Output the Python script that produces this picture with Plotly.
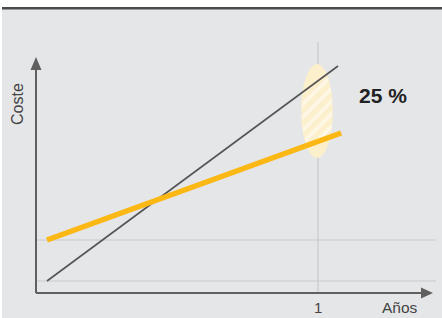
import numpy as np
import plotly.graph_objects as go

W, H = 442, 318

# ---- data ----
gray_x = [0.039, 1.071]
gray_y = [0.12, 2.27]
yellow_x = [0.039, 1.082]
yellow_y = [0.53, 1.60]
grid_y = [0.12, 0.53]
tick_x = [1]
tick_labels = ["1"]
highlight_label = "25 %"
x_title = "Años"
y_title = "Coste"

# ellipse (highlight band) in data units
ell_x = [0.94, 1.053]
ell_y = [1.35, 2.29]

XR = [-36 / 282, (W - 36) / 282]
YR = [(293 - H) / 100, 293 / 100]


def px(x):
    return x / W


def py(y):
    return 1 - y / H


fig = go.Figure()

# ellipse fill
cx, cy = (ell_x[0] + ell_x[1]) / 2, (ell_y[0] + ell_y[1]) / 2
rx, ry = (ell_x[1] - ell_x[0]) / 2, (ell_y[1] - ell_y[0]) / 2
t = np.linspace(0, 2 * np.pi, 120)
fig.add_trace(go.Scatter(x=cx + rx * np.cos(t), y=cy + ry * np.sin(t), mode="lines",
                         line=dict(width=0, color="#fcefcc"), fill="toself",
                         fillcolor="#fcefcc", hoverinfo="skip", showlegend=False))

# hatched region between the two lines inside the ellipse
def lin(xs, ys, x):
    return ys[0] + (ys[1] - ys[0]) * (x - xs[0]) / (xs[1] - xs[0])

hx = np.linspace(cx - rx * 0.93, cx + rx * 0.93, 60)
half = ry * np.sqrt(np.clip(1 - ((hx - cx) / rx) ** 2, 0, 1))
top = np.minimum(lin(gray_x, gray_y, hx) - 0.02, cy + half * 0.92)
bot = np.maximum(lin(yellow_x, yellow_y, hx) + 0.02, cy - half * 0.92)
fig.add_trace(go.Scatter(x=np.concatenate([hx, hx[::-1]]), y=np.concatenate([top, bot[::-1]]),
                         mode="lines", line=dict(width=0), fill="toself",
                         fillcolor="rgba(0,0,0,0)",
                         fillpattern=dict(shape="/", fgcolor="white", bgcolor="#fcefcc",
                                          size=9, solidity=0.42),
                         hoverinfo="skip", showlegend=False))

fig.add_trace(go.Scatter(x=gray_x, y=gray_y, mode="lines",
                         line=dict(color="#555555", width=1.6), showlegend=False))
fig.add_trace(go.Scatter(x=yellow_x, y=yellow_y, mode="lines",
                         line=dict(color="#fbb713", width=5.5), showlegend=False))

shapes = [
    # background panel
    dict(type="rect", xref="paper", yref="paper", x0=px(2), x1=1, y0=0, y1=py(9),
         fillcolor="#e5e6e8", line=dict(width=0), layer="below"),
    # top rule
    dict(type="rect", xref="paper", yref="paper", x0=px(2), x1=1, y0=py(9.5), y1=py(7),
         fillcolor="#4a4a4a", line=dict(width=0), layer="below"),
]
for gy in grid_y:
    shapes.append(dict(type="line", xref="x", yref="y", x0=0, x1=(436 - 36) / 282, y0=gy, y1=gy,
                       line=dict(color="#c9cacc", width=1.2), layer="below"))
for tx in tick_x:
    shapes.append(dict(type="line", xref="x", yref="y", x0=tx, x1=tx, y0=0, y1=(293 - 42) / 100,
                       line=dict(color="#c9cacc", width=1.2), layer="below"))
# axes
shapes += [
    dict(type="line", xref="x", yref="y", x0=0, x1=(424 - 36) / 282, y0=0, y1=0,
         line=dict(color="#606060", width=2)),
    dict(type="line", xref="x", yref="y", x0=0, x1=0, y0=0, y1=(293 - 68) / 100,
         line=dict(color="#606060", width=2)),
    dict(type="path", xref="paper", yref="paper",
         path=f"M {px(421)} {py(287.5)} L {px(433)} {py(293)} L {px(421)} {py(298.5)} Z",
         fillcolor="#606060", line=dict(width=0)),
    dict(type="path", xref="paper", yref="paper",
         path=f"M {px(30.5)} {py(70)} L {px(36)} {py(57)} L {px(41.5)} {py(70)} Z",
         fillcolor="#606060", line=dict(width=0)),
]

annotations = [
    dict(x=tx, y=0, xref="x", yref="paper", text=lab, showarrow=False,
         font=dict(size=15, color="#444444"), xanchor="center", yanchor="bottom")
    for tx, lab in zip(tick_x, tick_labels)
]
annotations += [
    dict(x=px(399.5), y=0, xref="paper", yref="paper", text=x_title, showarrow=False,
         font=dict(size=15.5, color="#444444"), xanchor="center", yanchor="bottom"),
    dict(x=px(18), y=py(104), xref="paper", yref="paper", text=y_title, showarrow=False,
         textangle=-90, font=dict(size=16, color="#444444"), xanchor="center", yanchor="middle"),
    dict(x=px(383), y=py(96), xref="paper", yref="paper", text=f"<b>{highlight_label}</b>",
         showarrow=False, font=dict(size=21, color="#222222"), xanchor="center", yanchor="middle"),
]

fig.update_layout(
    width=W, height=H, margin=dict(l=0, r=0, t=0, b=0),
    paper_bgcolor="white", plot_bgcolor="rgba(0,0,0,0)",
    font=dict(family="Liberation Sans, Arial, sans-serif"),
    xaxis=dict(range=XR, visible=False, fixedrange=True),
    yaxis=dict(range=YR, visible=False, fixedrange=True),
    shapes=shapes, annotations=annotations, showlegend=False,
)

fig.write_html("out.html", config={"displayModeBar": False},
               post_script="document.body.style.margin='0';document.body.style.overflow='hidden';")
